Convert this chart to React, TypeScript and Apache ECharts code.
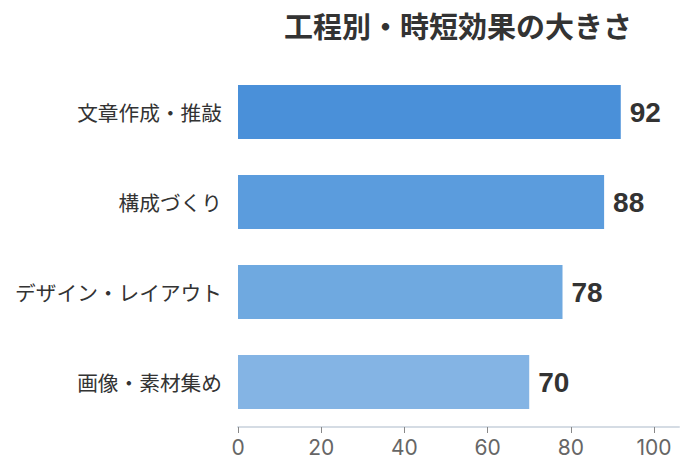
import React, { useEffect, useRef } from "react";
import * as echarts from "echarts";

const titleText = "工程別・時短効果の大きさ";
const categories = ["文章作成・推敲", "構成づくり", "デザイン・レイアウト", "画像・素材集め"];
const values = [92, 88, 78, 70];
const barColors = ["#4a90d9", "#5b9cdd", "#6fa9e0", "#84b4e4"];
const xTicks = [0, 20, 40, 60, 80, 100];

export default function App() {
  const ref = useRef<HTMLDivElement>(null);
  useEffect(() => {
    if (!ref.current) return;
    const chart = echarts.init(ref.current, undefined, { renderer: "svg" });
    const font = "'Noto Sans CJK JP', 'Noto Sans', sans-serif";
    chart.setOption({
      animation: false,
      textStyle: { fontFamily: font },
      title: {
        text: titleText,
        left: 453,
        top: 5,
        textAlign: "center",
        textStyle: { fontSize: 29, fontWeight: "bold", color: "#333", fontFamily: font },
      },
      grid: { left: 238, right: 14, top: 67, bottom: 49, containLabel: false },
      xAxis: {
        type: "value",
        min: 0,
        max: 106,
        interval: 20,
        splitLine: { show: false },
        axisLine: { show: true, lineStyle: { color: "#d5dce4", width: 2 } },
        axisTick: { show: true, length: 6, lineStyle: { color: "#888" }, customValues: xTicks },
        axisLabel: { fontSize: 21, color: "#666", margin: 10, customValues: xTicks, fontFamily: "Inter, 'Noto Sans', sans-serif" },
      },
      yAxis: {
        type: "category",
        data: categories,
        inverse: true,
        axisLine: { show: false },
        axisTick: { show: false },
        axisLabel: { fontSize: 20.7, color: "#333", margin: 16, fontFamily: font },
      },
      series: [
        {
          type: "bar",
          data: values.map((v, i) => ({ value: v, itemStyle: { color: barColors[i] } })),
          barWidth: "60%",
          label: {
            show: true,
            position: "right",
            distance: 9,
            fontSize: 28,
            fontWeight: "bold",
            color: "#333",
            fontFamily: "'Liberation Sans', Arial, sans-serif",
          },
        },
      ],
    });
    return () => chart.dispose();
  }, []);
  return <div ref={ref} style={{ width: 693, height: 476, position: "absolute", left: 0, top: 0 }} />;
}
